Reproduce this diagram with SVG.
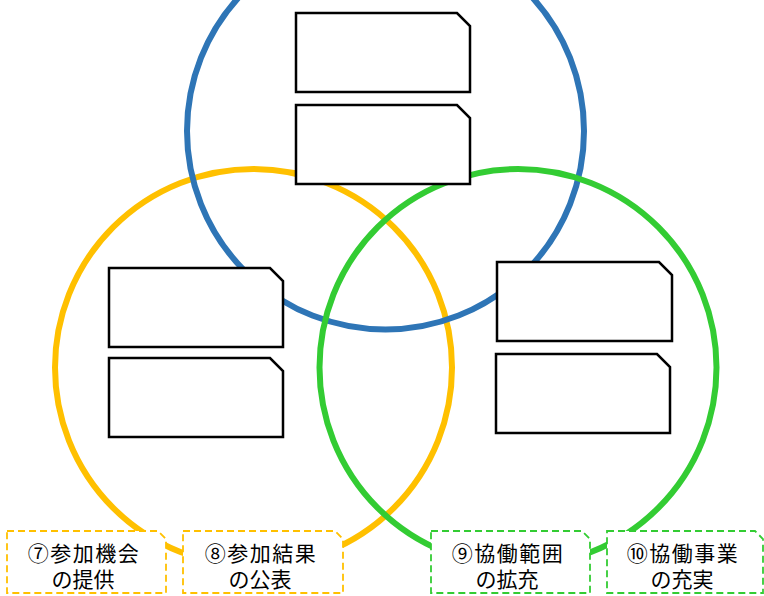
<svg xmlns="http://www.w3.org/2000/svg" width="764" height="596" viewBox="0 0 764 596">
<style>
.c{fill:none;stroke-width:6}
.b{fill:#fff;stroke:#000;stroke-width:2.5;stroke-linejoin:miter}
.l{fill:#fff;stroke-width:1.8;stroke-dasharray:7 4}
.t{font-family:"Noto Sans CJK JP","Noto Sans",sans-serif;font-size:21px;fill:#000;text-anchor:middle}
.t1{letter-spacing:1.5px}
</style>
<rect width="764" height="596" fill="#fff"/>
<g id="connectors">
<circle id="yellow-circle" class="c" cx="253.5" cy="367.5" r="198.5" stroke="#FFC000"/>
<circle id="blue-circle" class="c" cx="385.5" cy="131" r="198.5" stroke="#2E75B6"/>
<circle id="green-circle" class="c" cx="518" cy="367.5" r="198.5" stroke="#33CC33"/>
</g>
<g id="box-top-1"><path class="b" d="M296,13 H457 L470,26 V92 H296 Z"/></g>
<g id="box-top-2"><path class="b" d="M296,105 H457 L470,118 V184 H296 Z"/></g>
<g id="box-left-1"><path class="b" d="M109,268 H270 L283,281 V347 H109 Z"/></g>
<g id="box-left-2"><path class="b" d="M109,358 H270 L283,371 V437 H109 Z"/></g>
<g id="box-right-1"><path class="b" d="M497,262 H659 L672,275 V341 H497 Z"/></g>
<g id="box-right-2"><path class="b" d="M496,354 H657 L670,367 V433 H496 Z"/></g>
<g id="label-7">
<path class="l" stroke="#FFC000" d="M7,531 H158 L166,539 V593 H7 Z"/>
<text class="t"><tspan class="t1" x="84" y="561">⑦参加機会</tspan><tspan x="83" y="587">の提供</tspan></text>
</g>
<g id="label-8">
<path class="l" stroke="#FFC000" d="M183,531 H335 L343,539 V593 H183 Z"/>
<text class="t"><tspan class="t1" x="261" y="561">⑧参加結果</tspan><tspan x="260" y="587">の公表</tspan></text>
</g>
<g id="label-9">
<path class="l" stroke="#33CC33" d="M431,531 H582 L590,539 V593 H431 Z"/>
<text class="t"><tspan class="t1" x="508" y="561">⑨協働範囲</tspan><tspan x="507" y="587">の拡充</tspan></text>
</g>
<g id="label-10">
<path class="l" stroke="#33CC33" d="M607,531 H755 L763,539 V593 H607 Z"/>
<text class="t"><tspan class="t1" x="683" y="561">⑩協働事業</tspan><tspan x="682" y="587">の充実</tspan></text>
</g>
</svg>
